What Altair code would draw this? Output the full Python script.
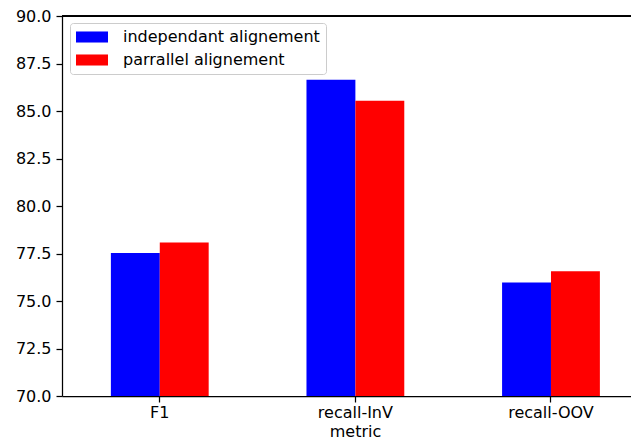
import altair as alt
import pandas as pd

metrics = ["F1", "recall-InV", "recall-OOV"]
series = ["independant alignement", "parrallel alignement"]
independant = [77.52, 86.64, 75.98]
parrallel = [78.08, 85.54, 76.56]
colors = ["#0000ff", "#ff0000"]
y_ticks = [70.0, 72.5, 75.0, 77.5, 80.0, 82.5, 85.0, 87.5, 90.0]

rows = []
for m, a, b in zip(metrics, independant, parrallel):
    rows.append({"metric": m, "series": series[0], "value": a})
    rows.append({"metric": m, "series": series[1], "value": b})
df = pd.DataFrame(rows)

W = 569
H = 380
FONT = "DejaVu Sans"

bars = alt.Chart(df).mark_bar(clip=True).encode(
    x=alt.X(
        "metric:N",
        sort=metrics,
        scale=alt.Scale(paddingInner=0.5, paddingOuter=0.2045, align=0.611),
        axis=alt.Axis(
            title="metric", labelAngle=0, labelFontSize=16, labelColor="black",
            labelFont=FONT, labelBaseline="alphabetic", labelPadding=15,
            titleFont=FONT, titleFontSize=16, titleFontWeight="normal",
            titleColor="black", titleX=293, titleY=40, titleAlign="center",
            titleBaseline="alphabetic", tickSize=6, tickWidth=1.25,
            tickColor="black", domainColor="black", domainWidth=1.25,
        ),
    ),
    xOffset=alt.XOffset("series:N", sort=series, scale=alt.Scale(paddingInner=0, paddingOuter=0)),
    y=alt.Y(
        "value:Q",
        scale=alt.Scale(domain=[70, 90], nice=False, zero=False),
        axis=alt.Axis(
            title=None, values=y_ticks, format=".1f", labelFontSize=16, labelColor="black",
            labelFont=FONT, tickSize=6, tickWidth=1.25, tickColor="black",
            domainColor="black", domainWidth=1.25, labelPadding=5, grid=False,
        ),
    ),
    color=alt.Color(
        "series:N",
        sort=series,
        scale=alt.Scale(domain=series, range=colors),
        legend=alt.Legend(
            title=None, orient="none", legendX=8, legendY=7, padding=6,
            symbolType="M-2,-0.69H2V0.69H-2Z", symbolSize=256, symbolOffset=8,
            symbolStrokeWidth=0, symbolOpacity=1, labelOffset=23, rowPadding=7,
            labelFontSize=16, labelFont=FONT, labelColor="black", labelLimit=400,
            fillColor="white", strokeColor="#cccccc", cornerRadius=3,
        ),
    ),
)

top = alt.Chart(df).mark_rule(color="black", strokeWidth=1.25).encode(
    x=alt.value(0), x2=alt.value(W), y=alt.value(0)
)

chart = alt.layer(bars, top).properties(
    width=W, height=H,
    autosize=alt.AutoSizeParams(type="none"),
    padding={"left": 54, "top": 8, "right": 0, "bottom": 44},
).configure_view(stroke="transparent")

chart.save("out.html", embed_options={"renderer": "svg", "actions": False})
